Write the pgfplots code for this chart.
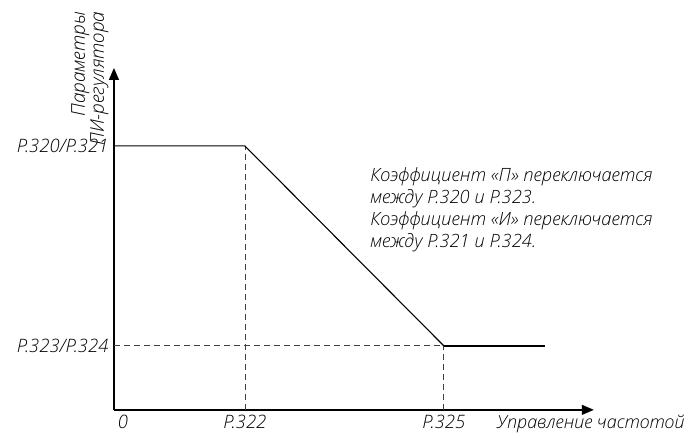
\documentclass[border=0pt]{standalone}
\usepackage{fontspec}
\setmainfont{Open Sans}[UprightFont=* Light, ItalicFont=* Light Italic]
\usepackage{pgfplots}
\pgfplotsset{compat=1.18}
\usetikzlibrary{arrows.meta}

\begin{document}
\begin{tikzpicture}
  \begin{axis}[
      scale only axis,
      width=480pt, height=342pt,
      xmin=0, xmax=480,
      ymin=0, ymax=342,
      axis lines=left,
      axis line style={line width=1.3pt, -{Triangle[length=12pt,width=10pt]}},
      xtick={0,131,330},
      xticklabels={\hspace*{18pt}0,P.322,P.325},
      ytick={64,264},
      yticklabels={P.323/P.324,P.320/P.321},
      major tick length=0pt,
      tick label style={font=\fontsize{18.5}{20}\selectfont\itshape},
      xticklabel style={yshift=-2pt},
      yticklabel style={xshift=-2pt},
      clip=false,
    ]
    % guide lines
    \addplot[dash pattern=on 6pt off 4pt, line width=0.8pt, black!75]
      coordinates {(0,64) (330,64)};
    \addplot[dash pattern=on 6pt off 4pt, line width=0.8pt, black!75]
      coordinates {(131,0) (131,264)};
    \addplot[dash pattern=on 6pt off 4pt, line width=0.8pt, black!75]
      coordinates {(330,0) (330,64)};
    % characteristic
    \addplot[line width=1.1pt, black] coordinates {(0,264) (131,264) (330,64)};
    \addplot[line width=2pt, black] coordinates {(330,64) (431,64)};

    \node[anchor=north, font=\fontsize{18}{20}\selectfont\itshape, yshift=-2pt]
      at (axis cs:477,0) {Управление частотой};
    \node[rotate=90, anchor=south east, align=right,
          font=\fontsize{19}{19}\selectfont\itshape]
      at (axis cs:-2,402) {Параметры\\ПИ-регулятора};
    \node[anchor=base west, align=left,
          font=\fontsize{18.3}{22}\selectfont\itshape]
      at (axis cs:253,162) {Коэффициент «П» переключается\\между P.320 и P.323.\\Коэффициент «И» переключается\\между P.321 и P.324.};
    % page frame
    \path (axis cs:-114,-28) rectangle (axis cs:574,410);
  \end{axis}
\end{tikzpicture}
\end{document}
